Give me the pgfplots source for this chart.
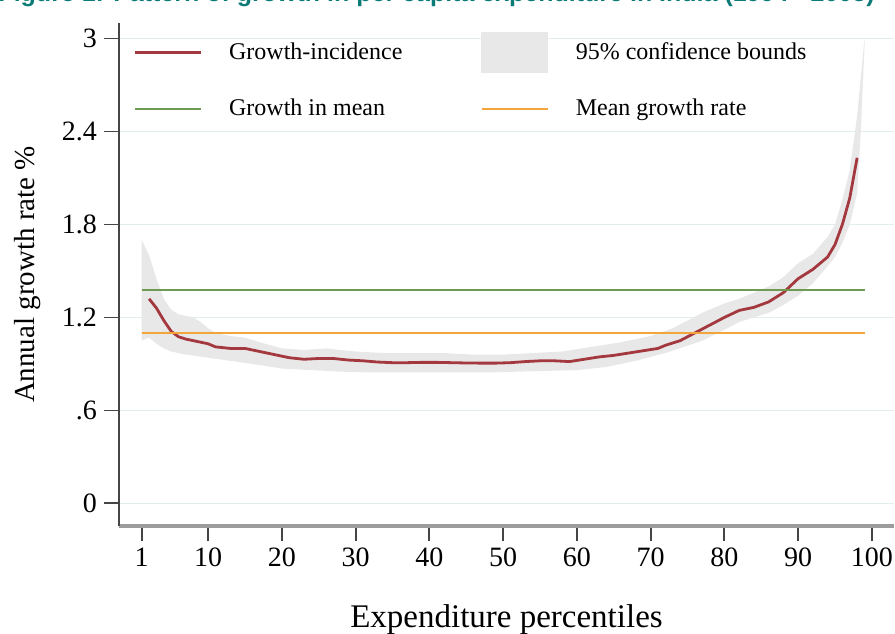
\documentclass[border=0pt]{standalone}
\usepackage{fontspec}
\setmainfont{Liberation Serif}
\newfontfamily\titlefont{Liberation Sans}
\usepackage{pgfplots}
\pgfplotsset{compat=1.18}
\usepgfplotslibrary{fillbetween}
\definecolor{gicred}{HTML}{A4383F}
\definecolor{meangreen}{HTML}{6F9A52}
\definecolor{rateorange}{HTML}{F2A53A}
\definecolor{bandgray}{HTML}{E8E8E8}
\definecolor{gridc}{HTML}{E2EEEE}
\definecolor{titlec}{HTML}{0B7B78}
\definecolor{axisc}{HTML}{454545}
\definecolor{xaxisc}{HTML}{9C9C9C}

\pgfplotstableread{
x y
2 1.32
3 1.26
4 1.18
5 1.11
6 1.075
7 1.06
8 1.05
10 1.03
11 1.01
13 1.00
15 1.00
17 0.98
19 0.96
21 0.94
23 0.93
25 0.935
27 0.935
29 0.925
31 0.92
33 0.912
35 0.908
37 0.908
39 0.91
41 0.91
43 0.908
45 0.906
47 0.905
49 0.905
51 0.908
53 0.915
55 0.92
57 0.92
59 0.915
61 0.93
63 0.945
65 0.955
67 0.97
69 0.985
71 1.00
72 1.02
74 1.05
76 1.10
78 1.15
80 1.20
82 1.245
84 1.265
86 1.30
88 1.36
90 1.45
92 1.51
94 1.59
95 1.67
96 1.80
97 1.97
98 2.23
}\gictab

\pgfplotstableread{
x y
1 1.70
2 1.60
3 1.45
4 1.32
5 1.25
6 1.22
7 1.21
8 1.20
9 1.17
10 1.13
11 1.10
13 1.08
15 1.07
17 1.04
20 1.00
23 0.99
26 1.00
28 0.99
30 0.98
34 0.97
38 0.97
42 0.97
46 0.96
50 0.96
54 0.97
58 0.98
62 1.01
66 1.04
70 1.08
73 1.13
77 1.23
80 1.29
82 1.32
86 1.40
88 1.46
90 1.55
92 1.61
94 1.72
95 1.80
96 1.96
97 2.15
98 2.50
98.5 2.75
99 3.00
}\uptab

\pgfplotstableread{
x y
1 1.05
2 1.07
3 1.03
4 1.00
5 0.98
7 0.96
10 0.94
13 0.92
16 0.90
20 0.87
24 0.86
28 0.85
32 0.845
36 0.845
40 0.845
44 0.845
48 0.845
52 0.85
56 0.855
60 0.86
64 0.88
68 0.92
72 0.97
77 1.05
80 1.12
82 1.17
86 1.23
88 1.28
90 1.34
92 1.42
94 1.53
95 1.59
96 1.68
97 1.80
98 2.00
98.5 2.40
99 2.95
}\lowtab

\begin{document}
\begin{tikzpicture}
\begin{axis}[
  name=ax,
  scale only axis,
  width=387.5pt, height=251.5pt,
  xmin=-2.08, xmax=103, ymin=-0.146, ymax=3.1,
  axis x line*=bottom, axis y line*=left,
  x axis line style={draw=xaxisc, line width=1.8pt},
  y axis line style={draw=axisc, line width=1.3pt},
  tick align=outside,
  major tick length=7.5pt,
  tick style={draw=axisc, line width=0.9pt},
  xtick={1,10,20,30,40,50,60,70,80,90,100},
  xticklabels={1,10,20,30,40,50,60,70,80,90,100},
  ytick={0,0.6,1.2,1.8,2.4,3},
  yticklabels={0,.6,1.2,1.8,2.4,3},
  x tick label style={font=\fontsize{14}{16}\selectfont},
  y tick label style={font=\fontsize{14}{16}\selectfont},
  ymajorgrids,
  grid style={draw=gridc, line width=0.7pt},
  xlabel={Expenditure percentiles},
  ylabel={Annual growth rate \%},
  every axis x label/.style={at={(axis description cs:0.5,-0.187)}, anchor=center, font=\fontsize{16.5}{18}\selectfont},
  every axis y label/.style={at={(axis description cs:-0.1174,0.5)}, anchor=center, rotate=90, font=\fontsize{14.5}{17}\selectfont},
  legend columns=2,
  legend cell align=left,
  legend image code/.code={\draw[#1] (0pt,0pt) -- (33pt,0pt);},
  legend style={at={(axis description cs:0.018,0.982)}, anchor=north west,
    draw=none, fill=none, inner sep=0pt,
    font=\fontsize{12}{14}\selectfont,
    row sep=11pt,
    /tikz/every odd column/.append style={column sep=11.5pt},
    /tikz/every even column/.append style={column sep=37pt}},
]
\addplot[name path=up, draw=none, forget plot] table {\uptab};
\addplot[name path=lo, draw=none, forget plot] table {\lowtab};
\addplot[fill=bandgray, draw=none, forget plot] fill between[of=up and lo];

\addplot[gicred, line width=1.4pt] table {\gictab};
\addlegendentry{Growth-incidence}
\addlegendimage{legend image code/.code={\fill[bandgray] (0pt,-10pt) rectangle (33pt,10pt);}}
\addlegendentry{95\% confidence bounds}
\addplot[meangreen, line width=1pt] coordinates {(1,1.374) (99,1.374)};
\addlegendentry{Growth in mean}
\addplot[rateorange, line width=1.2pt] coordinates {(1,1.10) (99,1.10)};
\addlegendentry{Mean growth rate}
\end{axis}
\node[anchor=base east, inner sep=0pt, text=titlec, font=\titlefont\bfseries\fontsize{12.5}{14}\selectfont]
  at ([shift={(378pt,10.9pt)}]ax.north west) {Figure 1: Pattern of growth in per capita expenditure in India (1994 - 2005)};
\pgfresetboundingbox
\path[use as bounding box] ([shift={(-59.5pt,-53.5pt)}]ax.south west) rectangle ([shift={(0.5pt,11.5pt)}]ax.north east);
\end{tikzpicture}
\end{document}
